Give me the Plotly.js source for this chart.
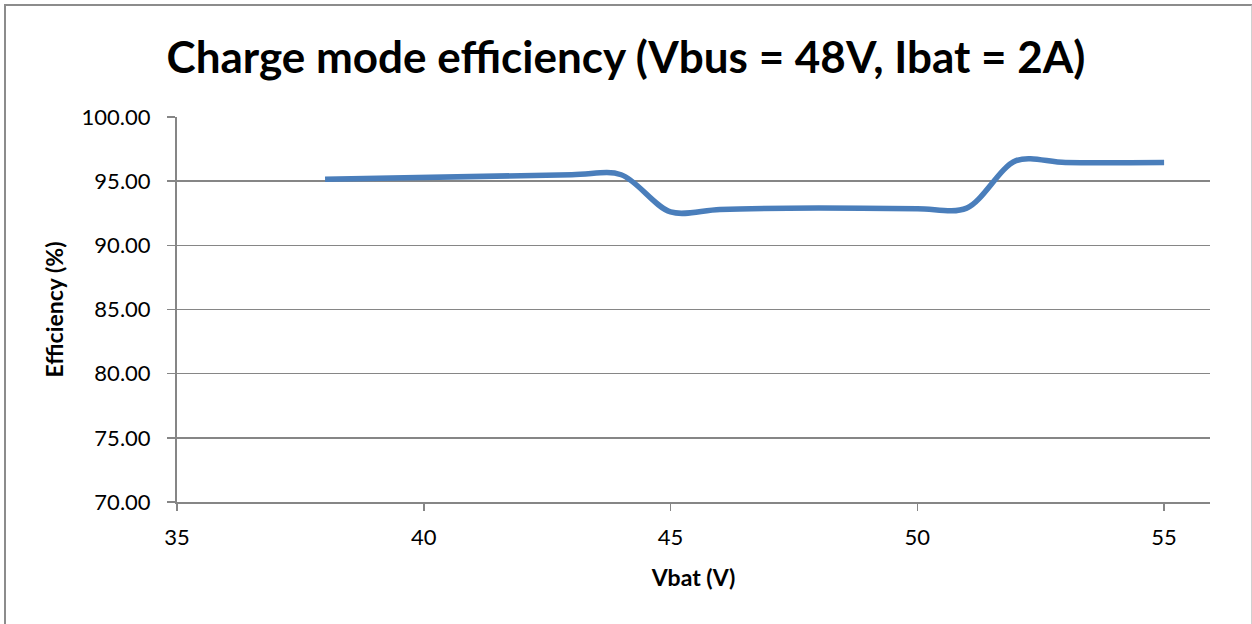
<!DOCTYPE html>
<html>
<head>
<meta charset="utf-8">
<script src="https://cdn.plot.ly/plotly-3.0.1.min.js"></script>
<style>
  html, body { margin: 0; padding: 0; background: #fff; }
  #wrap { position: relative; width: 1252px; height: 624px; }
  #chart { width: 1252px; height: 624px; }
  #frame { position: absolute; left: 4px; top: 4px; width: 1245px; height: 640px;
           border-left: 2px solid #8c8c8c; border-top: 2px solid #8c8c8c; border-right: 2px solid #d0d0d0;
           pointer-events: none; }
</style>
</head>
<body>
<div id="wrap">
  <div id="chart"></div>
  <div id="frame"></div>
</div>
<script>
const vbat = [38, 43, 44, 45, 46, 48, 50, 51, 52, 53, 55];
const efficiency = [95.15, 95.5, 95.5, 92.6, 92.8, 92.9, 92.85, 92.9, 96.6, 96.45, 96.45];
const chartTitle = 'Charge mode efficiency (Vbus = 48V, Ibat = 2A)';
const xTitle = 'Vbat (V)';
const yTitle = 'Efficiency (%)';
const xTicks = [35, 40, 45, 50, 55];
const yTicks = [70, 75, 80, 85, 90, 95, 100];

const FONT = 'Lato, "Open Sans", sans-serif';
const GRID = '#868686';

Plotly.newPlot('chart', [{
  x: vbat,
  y: efficiency,
  type: 'scatter',
  mode: 'lines',
  line: { color: '#4a7ebb', width: 5.5, shape: 'spline', smoothing: 0.9 },
  hoverinfo: 'x+y'
}], {
  width: 1252,
  height: 624,
  margin: { l: 177, r: 42, t: 117, b: 122 },
  paper_bgcolor: '#fff',
  plot_bgcolor: '#fff',
  showlegend: false,
  font: { family: FONT, color: '#000' },
  title: {
    text: '<b>' + chartTitle + '</b>',
    font: { family: FONT, size: 44, color: '#000' },
    x: 0.5, xref: 'container', xanchor: 'center',
    y: 0.908, yref: 'container', yanchor: 'middle'
  },
  xaxis: {
    range: [35, 55.93],
    tickvals: xTicks,
    ticktext: xTicks.map(String),
    ticks: 'outside', ticklen: 7, tickwidth: 1.5, tickcolor: GRID,
    ticklabelstandoff: 8,
    showline: true, linecolor: GRID, linewidth: 2,
    showgrid: false, zeroline: false,
    tickfont: { family: FONT, size: 22, color: '#000' },
    title: { text: '<b>' + xTitle + '</b>', font: { family: FONT, size: 23, color: '#000' }, standoff: 20 }
  },
  yaxis: {
    range: [70, 100],
    tickvals: yTicks,
    ticktext: yTicks.map(v => v.toFixed(2)),
    ticks: 'outside', ticklen: 8, tickwidth: 1.5, tickcolor: GRID,
    ticklabelstandoff: 12,
    showline: true, linecolor: GRID, linewidth: 2,
    showgrid: true, gridcolor: GRID, gridwidth: 1.5,
    zeroline: false,
    tickfont: { family: FONT, size: 22, color: '#000' },
    title: { text: '<b>' + yTitle + '</b>', font: { family: FONT, size: 23, color: '#000' }, standoff: 12 }
  }
}, { displayModeBar: false, staticPlot: true });
</script>
</body>
</html>
